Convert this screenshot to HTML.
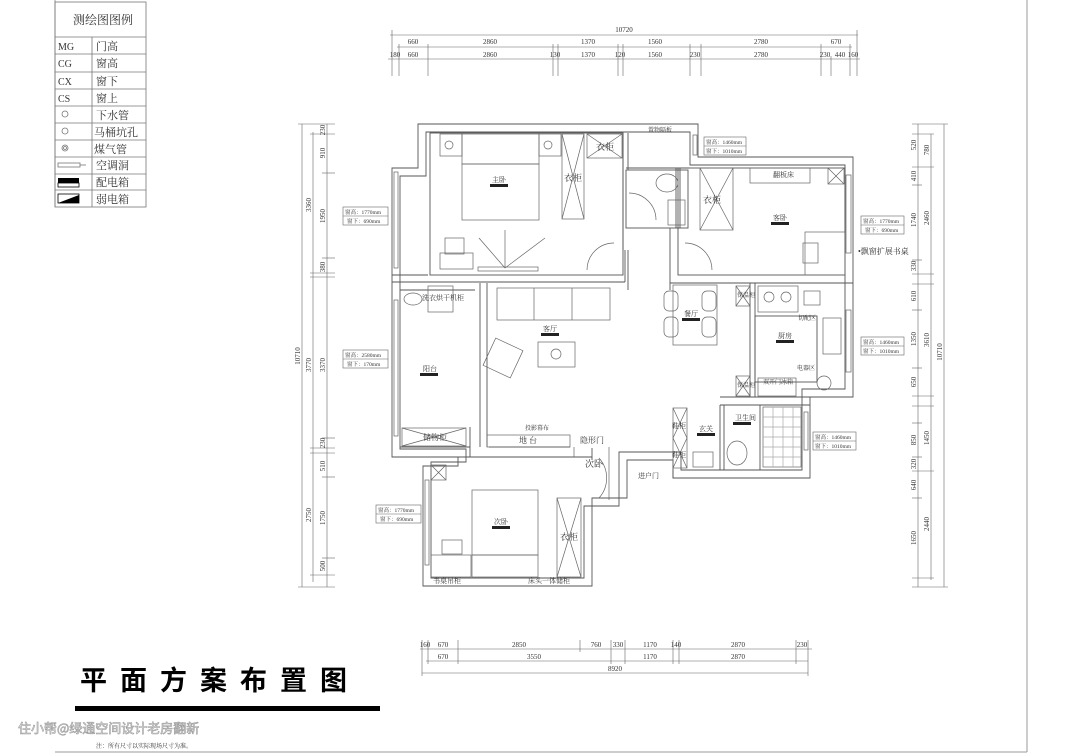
<!DOCTYPE html>
<html><head><meta charset="utf-8"><style>
html,body{margin:0;padding:0;background:#fff;}
svg{display:block;}
text{font-family:"Liberation Serif","Noto Serif CJK SC","Noto Sans CJK SC",serif;fill:#333;}
text.title{font-family:"Noto Sans CJK SC",sans-serif;fill:#000;}
text.wm{font-family:"Noto Sans CJK SC",sans-serif;fill:#f2f2f2;}
</style></head><body>
<svg width="1080" height="756" viewBox="0 0 1080 756" xmlns="http://www.w3.org/2000/svg">
<rect width="1080" height="756" fill="#fff"/>
<!-- frame -->
<g stroke="#999" stroke-width="1" fill="none">
<line x1="55" y1="0" x2="55" y2="207"/>
<line x1="1027" y1="0" x2="1027" y2="752"/>
<line x1="55" y1="752" x2="1027" y2="752"/>
</g>
<!-- legend -->
<g stroke="#777" stroke-width="0.8" fill="none">
<rect x="55" y="2" width="91" height="205"/>
<line x1="55" y1="37" x2="146" y2="37"/>
<line x1="92" y1="37" x2="92" y2="207"/>
<line x1="55" y1="54" x2="146" y2="54"/><line x1="55" y1="72" x2="146" y2="72"/>
<line x1="55" y1="89" x2="146" y2="89"/><line x1="55" y1="106" x2="146" y2="106"/>
<line x1="55" y1="123" x2="146" y2="123"/><line x1="55" y1="140" x2="146" y2="140"/>
<line x1="55" y1="157" x2="146" y2="157"/><line x1="55" y1="174" x2="146" y2="174"/>
<line x1="55" y1="190" x2="146" y2="190"/>
<circle cx="65" cy="114" r="3"/><circle cx="65" cy="131" r="3"/><circle cx="65" cy="148" r="3"/><circle cx="65" cy="148" r="1.5"/>
<rect x="58" y="163" width="22" height="4"/><line x1="80" y1="165" x2="86" y2="165"/>
</g>
<rect x="58" y="178" width="21" height="5" fill="#000"/><rect x="58" y="183" width="21" height="4" fill="none" stroke="#000" stroke-width="0.8"/>
<polygon points="58,203 79,195 79,203" fill="#000"/><rect x="58" y="194" width="21" height="9" fill="none" stroke="#000" stroke-width="0.8"/>
<g font-size="11">
<text x="73" y="24" font-size="12" fill="#555">测绘图图例</text>
<text x="58" y="50" font-size="10">MG</text><text x="96" y="50">门高</text>
<text x="58" y="67" font-size="10">CG</text><text x="96" y="67">窗高</text>
<text x="58" y="85" font-size="10">CX</text><text x="96" y="85">窗下</text>
<text x="58" y="102" font-size="10">CS</text><text x="96" y="102">窗上</text>
<text x="96" y="119">下水管</text><text x="94" y="136">马桶坑孔</text>
<text x="94" y="153">煤气管</text><text x="96" y="169">空调洞</text>
<text x="96" y="186">配电箱</text><text x="96" y="203">弱电箱</text>
</g>

<!-- top dims -->
<g stroke="#666" stroke-width="0.6" fill="none">
<line x1="390" y1="35" x2="858" y2="35"/>
<line x1="397" y1="47" x2="852" y2="47"/>
<line x1="388" y1="59" x2="860" y2="59"/>
<line x1="392" y1="30" x2="392" y2="76"/><line x1="857" y1="30" x2="857" y2="76"/>
<line x1="399" y1="44" x2="399" y2="76"/><line x1="428" y1="44" x2="428" y2="76"/>
<line x1="553" y1="44" x2="553" y2="76"/><line x1="558" y1="44" x2="558" y2="76"/>
<line x1="618" y1="44" x2="618" y2="76"/><line x1="623" y1="44" x2="623" y2="76"/>
<line x1="690" y1="44" x2="690" y2="76"/><line x1="701" y1="44" x2="701" y2="76"/>
<line x1="821" y1="44" x2="821" y2="76"/><line x1="831" y1="56" x2="831" y2="76"/><line x1="850" y1="44" x2="850" y2="76"/>
</g>
<g font-size="7" text-anchor="middle">
<text x="624" y="32">10720</text>
<text x="413" y="44">660</text><text x="490" y="44">2860</text><text x="588" y="44">1370</text><text x="655" y="44">1560</text><text x="761" y="44">2780</text><text x="836" y="44">670</text>
<text x="395" y="57">180</text><text x="413" y="57">660</text><text x="490" y="57">2860</text><text x="555" y="57">130</text><text x="588" y="57">1370</text><text x="620" y="57">120</text><text x="655" y="57">1560</text><text x="695" y="57">230</text><text x="761" y="57">2780</text><text x="825" y="57">230</text><text x="840" y="57">440</text><text x="853" y="57">160</text>
</g>

<!-- left dims -->
<g stroke="#666" stroke-width="0.6" fill="none">
<line x1="302" y1="124" x2="302" y2="587"/>
<line x1="313" y1="132" x2="313" y2="582"/>
<line x1="327" y1="124" x2="327" y2="587"/>
<line x1="298" y1="124" x2="335" y2="124"/><line x1="298" y1="587" x2="335" y2="587"/>
<line x1="310" y1="134" x2="335" y2="134"/><line x1="322" y1="173" x2="335" y2="173"/>
<line x1="322" y1="258" x2="335" y2="258"/><line x1="310" y1="273" x2="335" y2="273"/><line x1="310" y1="277" x2="335" y2="277"/>
<line x1="322" y1="438" x2="335" y2="438"/><line x1="310" y1="448" x2="335" y2="448"/><line x1="310" y1="453" x2="335" y2="453"/>
<line x1="322" y1="477" x2="335" y2="477"/><line x1="322" y1="558" x2="335" y2="558"/><line x1="310" y1="575" x2="335" y2="575"/>
</g>
<g font-size="7" text-anchor="middle">
<text transform="translate(300,356) rotate(-90)">10710</text>
<text transform="translate(311,205) rotate(-90)">3360</text>
<text transform="translate(311,365) rotate(-90)">3770</text>
<text transform="translate(311,515) rotate(-90)">2750</text>
<text transform="translate(325,153) rotate(-90)">910</text>
<text transform="translate(325,216) rotate(-90)">1950</text>
<text transform="translate(325,267) rotate(-90)">380</text>
<text transform="translate(325,365) rotate(-90)">3370</text>
<text transform="translate(325,443) rotate(-90)">230</text>
<text transform="translate(325,466) rotate(-90)">510</text>
<text transform="translate(325,518) rotate(-90)">1750</text>
<text transform="translate(325,566) rotate(-90)">500</text>
<text transform="translate(325,130) rotate(-90)">230</text>
</g>

<!-- right dims -->
<g stroke="#666" stroke-width="0.6" fill="none">
<line x1="918" y1="124" x2="918" y2="587"/>
<line x1="931" y1="134" x2="931" y2="580"/>
<line x1="944" y1="124" x2="944" y2="587"/>
<line x1="912" y1="124" x2="948" y2="124"/><line x1="912" y1="587" x2="948" y2="587"/>
<line x1="912" y1="134" x2="934" y2="134"/><line x1="912" y1="167" x2="934" y2="167"/><line x1="912" y1="185" x2="922" y2="185"/>
<line x1="912" y1="260" x2="922" y2="260"/><line x1="912" y1="274" x2="934" y2="274"/><line x1="912" y1="284" x2="934" y2="284"/>
<line x1="912" y1="310" x2="922" y2="310"/><line x1="912" y1="368" x2="922" y2="368"/><line x1="912" y1="396" x2="934" y2="396"/>
<line x1="912" y1="406" x2="934" y2="406"/><line x1="912" y1="423" x2="922" y2="423"/><line x1="912" y1="457" x2="922" y2="457"/>
<line x1="912" y1="471" x2="934" y2="471"/><line x1="912" y1="498" x2="922" y2="498"/><line x1="912" y1="578" x2="934" y2="578"/>
</g>
<g font-size="7" text-anchor="middle">
<text transform="translate(942,352) rotate(-90)">10710</text>
<text transform="translate(929,150) rotate(-90)">780</text>
<text transform="translate(929,218) rotate(-90)">2460</text>
<text transform="translate(929,340) rotate(-90)">3610</text>
<text transform="translate(929,438) rotate(-90)">1450</text>
<text transform="translate(929,524) rotate(-90)">2440</text>
<text transform="translate(916,145) rotate(-90)">520</text>
<text transform="translate(916,176) rotate(-90)">410</text>
<text transform="translate(916,220) rotate(-90)">1740</text>
<text transform="translate(916,266) rotate(-90)">330</text>
<text transform="translate(916,296) rotate(-90)">610</text>
<text transform="translate(916,339) rotate(-90)">1350</text>
<text transform="translate(916,382) rotate(-90)">650</text>
<text transform="translate(916,440) rotate(-90)">850</text>
<text transform="translate(916,464) rotate(-90)">320</text>
<text transform="translate(916,485) rotate(-90)">640</text>
<text transform="translate(916,538) rotate(-90)">1650</text>
</g>

<!-- bottom dims -->
<g stroke="#666" stroke-width="0.6" fill="none">
<line x1="420" y1="649" x2="812" y2="649"/>
<line x1="426" y1="661" x2="808" y2="661"/>
<line x1="422" y1="673" x2="808" y2="673"/>
<line x1="422" y1="640" x2="422" y2="676"/><line x1="428" y1="640" x2="428" y2="664"/><line x1="458" y1="640" x2="458" y2="664"/>
<line x1="580" y1="640" x2="580" y2="652"/><line x1="611" y1="640" x2="611" y2="664"/><line x1="625" y1="640" x2="625" y2="664"/>
<line x1="673" y1="640" x2="673" y2="664"/><line x1="679" y1="640" x2="679" y2="664"/><line x1="796" y1="640" x2="796" y2="664"/><line x1="808" y1="640" x2="808" y2="676"/>
</g>
<g font-size="7" text-anchor="middle">
<text x="425" y="647">160</text><text x="443" y="647">670</text><text x="519" y="647">2850</text><text x="596" y="647">760</text><text x="618" y="647">330</text><text x="650" y="647">1170</text><text x="676" y="647">140</text><text x="738" y="647">2870</text><text x="802" y="647">230</text>
<text x="443" y="659">670</text><text x="534" y="659">3550</text><text x="650" y="659">1170</text><text x="738" y="659">2870</text>
<text x="615" y="671">8920</text>
</g>

<!-- walls -->
<g stroke="#555" stroke-width="0.9" fill="none">
<polygon points="418,124 698,124 698,157 853,157 853,397 810,397 810,478 673,478 673,460 627,460 627,498 592,498 592,586 423,586 423,466 458,466 458,457 392,457 392,168 418,168"/>
<polygon points="426,132 690,132 690,165 845,165 845,389 802,389 802,470 681,470 681,452 619,452 619,506 584,506 584,578 431,578 431,462 466,462 466,449 400,449 400,176 426,176"/>
<rect x="430" y="133" width="193" height="142"/>
<line x1="392" y1="282" x2="625" y2="282"/><line x1="392" y1="275" x2="428" y2="275"/>
<line x1="623" y1="133" x2="623" y2="250"/><line x1="628" y1="133" x2="628" y2="170"/>
<line x1="625" y1="250" x2="625" y2="282"/><line x1="628" y1="250" x2="628" y2="290"/>
<rect x="626" y="170" width="62" height="58"/>
<line x1="626" y1="168" x2="690" y2="168"/>
<rect x="676" y="168" width="4" height="60"/>
<rect x="678" y="168" width="167" height="107"/>
<line x1="670" y1="228" x2="670" y2="290"/>
<line x1="670" y1="283" x2="853" y2="283"/>
<line x1="400" y1="290" x2="475" y2="290"/>
<line x1="480" y1="283" x2="480" y2="447"/><line x1="487" y1="283" x2="487" y2="447"/>
<line x1="400" y1="447" x2="470" y2="447"/>
<line x1="470" y1="427" x2="470" y2="457"/>
<line x1="750" y1="283" x2="750" y2="397"/><line x1="755" y1="283" x2="755" y2="397"/>
<rect x="755" y="316" width="62" height="66"/>
<line x1="720" y1="397" x2="810" y2="397"/><line x1="720" y1="405" x2="810" y2="405"/>
<line x1="720" y1="405" x2="720" y2="470"/><line x1="724" y1="405" x2="724" y2="470"/>
<line x1="760" y1="405" x2="760" y2="470"/>
<line x1="673" y1="470" x2="673" y2="478"/>
<line x1="458" y1="457" x2="592" y2="457"/>
<line x1="592" y1="448" x2="592" y2="460"/>
<line x1="489" y1="447" x2="570" y2="447"/>
</g>
<g stroke="#666" stroke-width="0.7" fill="none">
<rect x="394" y="172" width="4" height="96"/>
<rect x="394" y="300" width="4" height="136"/>
<rect x="425" y="480" width="4" height="85"/>
<rect x="846" y="175" width="5" height="78"/>
<rect x="846" y="310" width="5" height="62"/>
<rect x="804" y="412" width="4" height="38"/>
<rect x="693" y="135" width="4" height="20"/>
</g>

<!-- furniture -->
<g stroke="#666" stroke-width="0.7" fill="none">
<rect x="440" y="134" width="22" height="22"/><circle cx="449" cy="145" r="4"/>
<rect x="539" y="134" width="22" height="22"/><circle cx="548" cy="145" r="4"/>
<rect x="462" y="134" width="77" height="30"/>
<rect x="462" y="164" width="77" height="56"/>
<rect x="562" y="134" width="22" height="85"/><line x1="562" y1="134" x2="584" y2="219"/><line x1="584" y1="134" x2="562" y2="219"/>
<rect x="587" y="134" width="35" height="24"/><line x1="587" y1="134" x2="622" y2="158"/><line x1="622" y1="134" x2="587" y2="158"/>
<rect x="445" y="238" width="19" height="16"/><rect x="440" y="253" width="33" height="16"/>
<line x1="479" y1="238" x2="505" y2="268"/><line x1="545" y1="238" x2="505" y2="268"/><line x1="505" y1="230" x2="505" y2="268"/>
<rect x="478" y="267" width="60" height="4"/>
<path d="M587,270 A27,27 0 0 1 614,243"/>
<path d="M712,270 A27,27 0 0 0 685,243"/>
<path d="M656,220 A27,27 0 0 0 629,193"/>
<ellipse cx="667" cy="183" rx="11" ry="9"/><rect x="668" y="200" width="17" height="25"/>
<rect x="700" y="168" width="33" height="62"/><line x1="700" y1="168" x2="733" y2="230"/><line x1="733" y1="168" x2="700" y2="230"/>
<rect x="750" y="168" width="60" height="15"/>
<rect x="828" y="168" width="16" height="16"/><line x1="828" y1="168" x2="844" y2="184"/><line x1="844" y1="168" x2="828" y2="184"/>
<rect x="805" y="232" width="40" height="43"/>
<rect x="803" y="243" width="15" height="20"/>
<rect x="428" y="286" width="25" height="26"/>
<ellipse cx="413" cy="299" rx="9" ry="6"/>
<rect x="402" y="428" width="64" height="18"/><line x1="402" y1="428" x2="466" y2="446"/><line x1="466" y1="428" x2="402" y2="446"/>
<rect x="497" y="288" width="113" height="32"/><line x1="534" y1="288" x2="534" y2="320"/><line x1="572" y1="288" x2="572" y2="320"/>
<rect x="538" y="342" width="37" height="25"/><circle cx="556" cy="354" r="5"/>
<rect x="488" y="343" width="30" height="30" transform="rotate(25 503 358)"/>
<rect x="487" y="435" width="83" height="12"/>
<rect x="673" y="285" width="44" height="60"/>
<rect x="664" y="291" width="14" height="20" rx="5"/><rect x="664" y="317" width="14" height="20" rx="5"/>
<rect x="702" y="291" width="14" height="20" rx="5"/><rect x="702" y="317" width="14" height="20" rx="5"/>
<rect x="736" y="286" width="14" height="20"/><line x1="736" y1="286" x2="750" y2="306"/><line x1="750" y1="286" x2="736" y2="306"/>
<rect x="736" y="376" width="14" height="20"/><line x1="736" y1="376" x2="750" y2="396"/><line x1="750" y1="376" x2="736" y2="396"/>
<rect x="758" y="286" width="40" height="26"/><circle cx="769" cy="297" r="5"/><circle cx="786" cy="297" r="5"/>
<rect x="804" y="291" width="16" height="14"/>
<rect x="823" y="318" width="18" height="36"/>
<rect x="758" y="378" width="38" height="18"/>
<circle cx="824" cy="383" r="7"/>
<rect x="673" y="408" width="14" height="60"/><line x1="673" y1="408" x2="687" y2="438"/><line x1="687" y1="408" x2="673" y2="438"/><line x1="673" y1="438" x2="687" y2="468"/><line x1="687" y1="438" x2="673" y2="468"/>
<rect x="693" y="452" width="20" height="15"/>
<ellipse cx="737" cy="453" rx="10" ry="12"/>
<rect x="763" y="407" width="38" height="60"/>
<path d="M763,417 H801 M763,427 H801 M763,437 H801 M763,447 H801 M763,457 H801 M773,407 V467 M783,407 V467 M793,407 V467" stroke="#aaa"/>
<path d="M599,458 A30,30 0 0 1 599,498" />
<line x1="574" y1="447" x2="574" y2="457"/><line x1="609" y1="447" x2="609" y2="500"/>
<rect x="431" y="465" width="15" height="15"/><line x1="431" y1="465" x2="446" y2="480"/><line x1="446" y1="465" x2="431" y2="480"/>
<rect x="472" y="490" width="66" height="65"/>
<rect x="472" y="555" width="66" height="22"/>
<rect x="557" y="498" width="24" height="79"/><line x1="557" y1="498" x2="581" y2="577"/><line x1="581" y1="498" x2="557" y2="577"/>
<rect x="442" y="540" width="20" height="14"/><rect x="431" y="555" width="40" height="22"/>
</g>
<g fill="#222">
<rect x="490" y="184" width="18" height="3"/><rect x="771" y="222" width="18" height="3"/>
<rect x="420" y="373" width="18" height="3"/><rect x="541" y="333" width="18" height="3"/>
<rect x="682" y="318" width="18" height="3"/><rect x="776" y="340" width="18" height="3"/>
<rect x="697" y="433" width="18" height="3"/><rect x="733" y="422" width="18" height="3"/>
<rect x="492" y="526" width="18" height="3"/>
</g>
<g font-size="7" fill="#333">
<text x="492" y="182">主卧</text><text x="773" y="220">客卧</text><text x="423" y="371">阳台</text><text x="543" y="331">客厅</text>
<text x="684" y="316">餐厅</text><text x="778" y="338">厨房</text><text x="699" y="431">玄关</text><text x="735" y="420">卫生间</text><text x="494" y="524">次卧</text>
<text x="564" y="181" font-size="9">衣柜</text><text x="596" y="150" font-size="9">衣柜</text><text x="703" y="203" font-size="9">衣柜</text><text x="560" y="540" font-size="9">衣柜</text>
<text x="648" y="132" font-size="6">置物隔板</text><text x="773" y="177">翻板床</text>
<text x="858" y="254" font-size="8">•飘窗扩展书桌</text>
<text x="422" y="300">洗衣烘干机柜</text>
<text x="423" y="440" font-size="8">储物柜</text>
<text x="525" y="430" font-size="6">投影幕布</text>
<text x="519" y="443" font-size="8">地 台</text>
<text x="580" y="443" font-size="8">隐形门</text>
<text x="585" y="467" font-size="9">次卧</text>
<text x="638" y="478" font-size="7">进户门</text>
<text x="672" y="428" font-size="7">鞋柜</text><text x="672" y="457" font-size="7">鞋柜</text>
<text x="737" y="297" font-size="6">保温柜</text><text x="737" y="387" font-size="6">保温柜</text>
<text x="798" y="320" font-size="6">切配区</text><text x="797" y="370" font-size="6">电器区</text>
<text x="763" y="384" font-size="6">双开门冰箱</text>
<text x="433" y="583" font-size="7">书桌吊柜</text><text x="528" y="583" font-size="7">床头一体储柜</text>
<text x="96" y="748" font-size="6">注：所有尺寸以实际现场尺寸为准。</text>
</g>
<g stroke="#666" stroke-width="0.6" fill="#fff">
<rect x="343" y="207" width="45" height="18"/><line x1="343" y1="216" x2="388" y2="216"/>
<rect x="343" y="350" width="45" height="18"/><line x1="343" y1="359" x2="388" y2="359"/>
<rect x="376" y="505" width="45" height="18"/><line x1="376" y1="514" x2="421" y2="514"/>
<rect x="704" y="137" width="42" height="18"/><line x1="704" y1="146" x2="746" y2="146"/>
<rect x="861" y="216" width="43" height="18"/><line x1="861" y1="225" x2="904" y2="225"/>
<rect x="861" y="337" width="43" height="18"/><line x1="861" y1="346" x2="904" y2="346"/>
<rect x="813" y="432" width="43" height="18"/><line x1="813" y1="441" x2="856" y2="441"/>
</g>
<g font-size="5.5" fill="#222">
<text x="345" y="214">窗高：1770mm</text><text x="347" y="223">窗下：690mm</text>
<text x="345" y="357">窗高：2580mm</text><text x="347" y="366">窗下：170mm</text>
<text x="378" y="512">窗高：1770mm</text><text x="380" y="521">窗下：690mm</text>
<text x="706" y="144">窗高：1460mm</text><text x="706" y="153">窗下：1010mm</text>
<text x="863" y="223">窗高：1770mm</text><text x="865" y="232">窗下：690mm</text>
<text x="863" y="344">窗高：1460mm</text><text x="863" y="353">窗下：1010mm</text>
<text x="815" y="439">窗高：1460mm</text><text x="815" y="448">窗下：1010mm</text>
</g>

<!-- title -->
<text class="title" x="80" y="690" font-size="27" font-weight="bold" letter-spacing="13">平面方案布置图</text>
<rect x="75" y="706" width="305" height="5" fill="#000"/>
<text class="wm" x="18" y="733" font-size="13" stroke="#999" stroke-width="0.6">住小帮@绿通空间设计老房翻新</text>
</svg>
</body></html>
